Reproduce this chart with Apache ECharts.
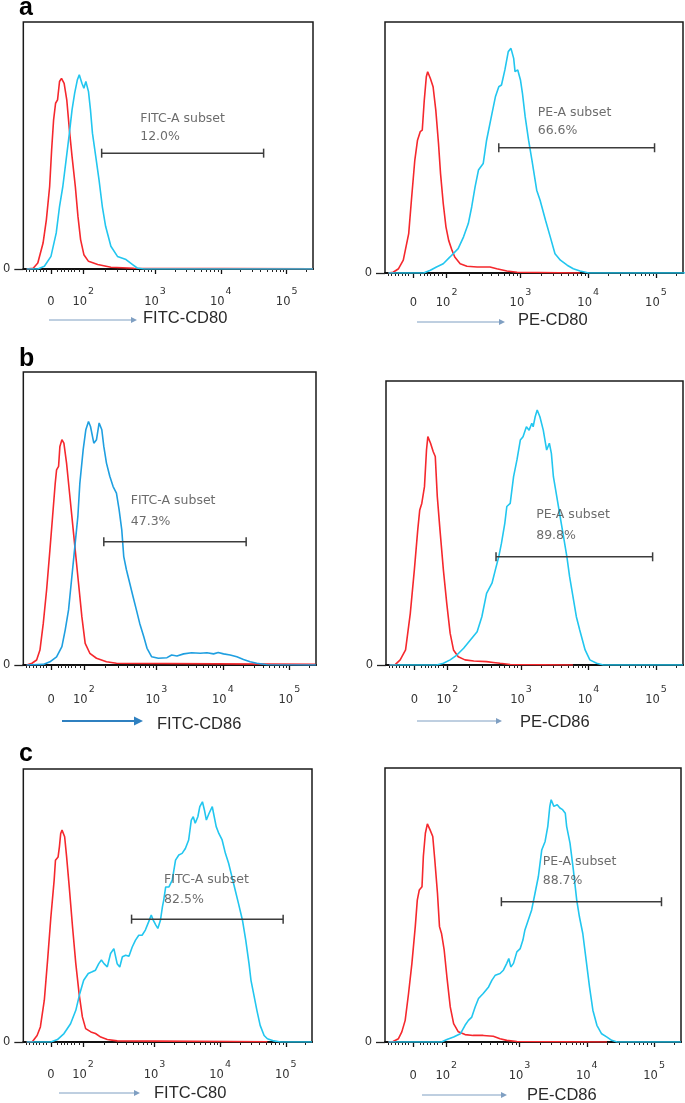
<!DOCTYPE html>
<html><head><meta charset="utf-8">
<script src="https://cdn.jsdelivr.net/npm/echarts@6/dist/echarts.min.js"></script>
<style>html,body{margin:0;padding:0;background:#fff}#c{width:685px;height:1103px}</style>
</head><body><div id="c"></div>
<script>
// x values are positions on the biexponential display axis: 3 = 10^3, 4 = 10^4, 5 = 10^5
const tickPositions = [1.42, 1.91, 3, 4, 5];
const tickLabels = ['0', '10^2', '10^3', '10^4', '10^5'];
const yTickValues = [0];
const panelLetters = ['a', 'b', 'c'];
const axisNames = ['FITC-CD80', 'PE-CD80', 'FITC-CD86', 'PE-CD86', 'FITC-C80', 'PE-CD86'];
const gateNames = ['FITC-A subset', 'PE-A subset', 'FITC-A subset', 'PE-A subset', 'FITC-A subset', 'PE-A subset'];
const gatePercents = ['12.0%', '66.6%', '47.3%', '89.8%', '82.5%', '88.7%'];
const gateRanges = [[2.19, 4.65], [2.68, 4.98], [2.21, 4.35], [2.63, 4.95], [2.65, 4.96], [2.73, 5.11]];
const gateLevels = [46.9, 49.9, 42.1, 38.1, 45.0, 51.2];
const gateLabelPos = [[2.76, 57.3], [3.24, 60.2], [2.60, 52.6], [3.21, 49.2], [3.13, 55.9], [3.33, 62.4]];

const aLeftControl = [[1.05,0],[1.15,0.3],[1.22,2.4],[1.30,10.5],[1.35,19.9],[1.40,33.4],[1.43,48.2],[1.46,60.4],[1.49,67.1],[1.52,68.5],[1.55,75.9],[1.58,77.2],[1.62,75.2],[1.66,68.5],[1.70,56.3],[1.74,45.6],[1.79,33.4],[1.83,21.3],[1.87,11.9],[1.92,5.8],[1.99,3.1],[2.13,1.8],[2.33,0.7],[2.68,0.3],[5.4,0.1]];
const aLeftStained = [[1.05,0],[1.22,0],[1.32,1.1],[1.42,5.1],[1.50,14.6],[1.55,25.3],[1.60,33.4],[1.65,44.2],[1.70,55.0],[1.74,64.4],[1.78,71.2],[1.82,76.5],[1.85,78.6],[1.89,75.2],[1.92,73.2],[1.95,75.9],[1.99,71.8],[2.02,64.4],[2.05,55.0],[2.10,45.6],[2.15,36.1],[2.20,25.3],[2.25,17.3],[2.33,9.2],[2.43,5.1],[2.56,3.8],[2.66,1.8],[2.73,0.4],[2.83,0],[5.4,0]];
const aRightControl = [[1.05,0],[1.12,0.3],[1.20,1.7],[1.27,5.1],[1.35,15.7],[1.39,29.0],[1.44,44.9],[1.48,52.9],[1.52,56.3],[1.55,56.9],[1.58,68.9],[1.61,78.2],[1.63,80.2],[1.67,77.5],[1.71,74.2],[1.75,64.9],[1.79,51.6],[1.82,39.6],[1.86,27.7],[1.90,18.4],[1.94,13.0],[1.99,9.0],[2.03,6.4],[2.11,3.7],[2.21,2.7],[2.36,2.4],[2.55,2.4],[2.65,1.7],[2.80,0.8],[2.95,0.3],[3.88,0]];
const aRightStained = [[1.05,0],[1.57,0],[1.67,1.1],[1.76,2.4],[1.86,3.7],[1.96,6.4],[2.08,9.7],[2.16,14.4],[2.23,19.7],[2.28,26.3],[2.33,34.3],[2.38,41.0],[2.45,43.6],[2.50,52.9],[2.58,63.6],[2.63,70.2],[2.68,74.2],[2.72,74.9],[2.77,80.9],[2.82,88.2],[2.86,89.5],[2.90,85.5],[2.92,80.2],[2.96,80.9],[3.00,76.9],[3.03,71.5],[3.07,62.2],[3.12,52.9],[3.17,44.9],[3.24,33.0],[3.29,29.0],[3.37,21.0],[3.44,14.4],[3.51,7.7],[3.59,5.1],[3.69,3.1],[3.78,1.7],[3.88,0.8],[4.01,0],[5.45,0]];
const bLeftControl = [[1.05,0],[1.13,0.6],[1.20,1.7],[1.25,5.1],[1.30,14.2],[1.35,25.6],[1.40,39.3],[1.44,50.7],[1.48,62.1],[1.50,66.6],[1.53,67.8],[1.55,74.6],[1.58,76.9],[1.61,75.7],[1.65,68.9],[1.69,59.8],[1.73,50.7],[1.78,39.3],[1.83,27.9],[1.88,16.5],[1.93,7.4],[2.00,4.0],[2.10,2.3],[2.25,1.1],[2.40,0.6],[5.39,0.2]];
const bLeftStained = [[1.05,0],[1.30,0.2],[1.40,1.1],[1.50,2.8],[1.58,6.3],[1.63,12.0],[1.68,18.8],[1.73,30.2],[1.78,41.6],[1.82,50.7],[1.85,62.1],[1.90,73.5],[1.94,80.3],[1.98,83.1],[2.01,81.4],[2.06,75.7],[2.10,76.9],[2.14,82.6],[2.18,80.3],[2.21,74.6],[2.25,68.9],[2.30,64.4],[2.35,60.9],[2.40,58.7],[2.44,53.0],[2.48,46.1],[2.51,37.0],[2.55,32.5],[2.60,27.9],[2.65,23.3],[2.70,18.8],[2.75,14.2],[2.81,9.7],[2.86,5.7],[2.93,2.8],[3.03,2.3],[3.16,2.5],[3.23,3.4],[3.31,3.1],[3.41,3.8],[3.53,4.2],[3.66,4.0],[3.76,4.2],[3.86,3.8],[3.93,4.3],[4.01,3.8],[4.11,3.4],[4.21,2.8],[4.31,1.9],[4.41,1.1],[4.51,0.6],[4.66,0.1],[5.4,0]];
const bRightControl = [[1.05,0],[1.14,0.2],[1.21,1.8],[1.29,5.3],[1.36,18.2],[1.42,33.5],[1.47,47.5],[1.50,54.6],[1.53,56.9],[1.57,62.8],[1.60,75.7],[1.62,80.4],[1.66,78.1],[1.70,75.1],[1.73,73.4],[1.76,59.3],[1.80,47.5],[1.85,33.5],[1.90,21.7],[1.95,11.2],[2.00,5.3],[2.07,2.9],[2.17,1.8],[2.30,1.4],[2.49,1.2],[2.59,0.9],[2.69,0.6],[2.84,0.2],[3.77,0]];
const bRightStained = [[1.05,0],[1.75,0],[1.85,0.6],[1.95,1.8],[2.05,3.5],[2.15,5.9],[2.25,8.8],[2.35,11.7],[2.42,17.0],[2.49,25.2],[2.57,28.8],[2.62,33.5],[2.67,38.1],[2.71,42.8],[2.76,49.9],[2.79,55.8],[2.84,56.9],[2.89,66.3],[2.94,72.2],[2.99,79.2],[3.03,80.4],[3.08,83.9],[3.12,82.7],[3.16,85.1],[3.18,83.9],[3.21,87.4],[3.24,89.8],[3.28,87.4],[3.33,82.7],[3.38,75.7],[3.42,78.1],[3.45,74.5],[3.48,66.3],[3.53,59.3],[3.58,52.2],[3.63,45.2],[3.68,38.1],[3.72,31.1],[3.77,24.1],[3.82,17.0],[3.87,12.3],[3.95,5.3],[4.02,1.8],[4.12,0.6],[4.22,0],[5.4,0]];
const cLeftControl = [[1.05,0],[1.14,0.2],[1.21,2.4],[1.26,5.5],[1.32,15.3],[1.37,30.0],[1.42,45.8],[1.47,59.3],[1.49,66.6],[1.53,67.8],[1.55,71.5],[1.57,76.4],[1.59,77.6],[1.63,75.2],[1.66,67.8],[1.70,56.8],[1.75,42.2],[1.80,28.7],[1.85,17.7],[1.90,9.2],[1.95,4.9],[2.03,3.7],[2.10,3.1],[2.18,1.8],[2.28,0.9],[2.43,0.4],[4.72,0.1]];
const cLeftStained = [[1.05,0],[1.42,0],[1.52,0.9],[1.62,3.1],[1.72,6.7],[1.80,11.6],[1.86,17.7],[1.92,22.6],[1.99,25.1],[2.05,25.7],[2.10,26.3],[2.15,28.7],[2.19,30.0],[2.23,28.7],[2.28,27.5],[2.33,32.4],[2.38,34.2],[2.43,28.7],[2.47,27.5],[2.51,31.2],[2.56,31.8],[2.61,31.4],[2.66,34.8],[2.71,37.3],[2.76,39.1],[2.81,39.1],[2.86,41.0],[2.91,44.0],[2.95,46.5],[2.98,44.6],[3.02,42.8],[3.05,41.6],[3.09,44.6],[3.12,49.5],[3.14,52.0],[3.17,56.8],[3.22,56.8],[3.27,59.3],[3.32,66.6],[3.37,68.5],[3.42,69.1],[3.47,70.9],[3.52,74.0],[3.56,81.3],[3.59,82.5],[3.62,80.1],[3.66,82.5],[3.69,86.2],[3.73,88.0],[3.76,85.0],[3.79,81.3],[3.83,83.7],[3.88,86.2],[3.90,83.7],[3.94,78.9],[3.98,76.4],[4.03,74.0],[4.08,69.1],[4.13,65.4],[4.18,60.5],[4.23,55.6],[4.28,50.7],[4.34,44.6],[4.39,37.3],[4.44,28.7],[4.47,22.6],[4.51,17.7],[4.56,11.6],[4.61,6.1],[4.67,2.4],[4.72,1.2],[4.82,0.4],[4.92,0],[5.4,0]];
const cRightControl = [[1.05,0],[1.12,0.2],[1.20,1.2],[1.25,3.7],[1.30,7.9],[1.35,17.7],[1.40,28.7],[1.45,42.1],[1.48,51.8],[1.51,55.5],[1.55,56.7],[1.57,67.7],[1.60,76.2],[1.63,79.6],[1.67,77.4],[1.71,75.0],[1.74,66.5],[1.78,54.3],[1.81,42.1],[1.84,39.6],[1.88,33.5],[1.92,23.8],[1.97,12.8],[2.02,6.7],[2.09,3.7],[2.19,2.7],[2.31,2.4],[2.46,2.4],[2.61,2.1],[2.71,1.2],[2.81,0.6],[2.96,0.2],[4.30,0]];
const cRightStained = [[1.05,0],[1.84,0],[1.92,0.9],[2.02,1.8],[2.12,3.0],[2.19,6.1],[2.24,7.9],[2.29,9.1],[2.34,12.8],[2.39,15.9],[2.46,17.7],[2.54,20.1],[2.59,22.6],[2.64,24.4],[2.71,25.0],[2.76,26.2],[2.81,28.7],[2.84,30.5],[2.87,27.4],[2.91,28.7],[2.96,32.9],[3.01,34.1],[3.05,37.2],[3.08,40.9],[3.13,44.5],[3.18,48.2],[3.23,54.3],[3.28,60.4],[3.33,70.1],[3.38,73.2],[3.42,78.7],[3.45,86.0],[3.47,88.4],[3.51,86.0],[3.56,86.6],[3.60,85.4],[3.64,84.8],[3.68,83.5],[3.70,78.7],[3.75,72.6],[3.80,62.8],[3.85,51.8],[3.89,45.7],[3.94,39.6],[3.99,29.9],[4.04,20.1],[4.09,11.6],[4.15,6.1],[4.22,3.0],[4.30,1.8],[4.37,0.6],[4.45,0],[5.4,0]];

const controls = [aLeftControl, aRightControl, bLeftControl, bRightControl, cLeftControl, cRightControl];
const stained = [aLeftStained, aRightStained, bLeftStained, bRightStained, cLeftStained, cRightStained];

// ---- layout / style (pixels) ----
const boxes = [
  {left: 22, top: 22, width: 291, height: 247},
  {left: 385, top: 22, width: 298, height: 251},
  {left: 23, top: 372, width: 293, height: 293},
  {left: 386, top: 381, width: 297, height: 284},
  {left: 23, top: 769, width: 289, height: 273},
  {left: 385, top: 768, width: 296, height: 274}
];
const labelMargins = [17, 14, 19, 19, 17, 18];
const gateLineHeights = [18, 18, 21, 21, 20, 19];
const stainedColors = ['#22c6ef', '#22c6ef', '#1f9fe0', '#22c6ef', '#22c6ef', '#22c6ef'];
const controlColor = '#f5282d';
const arrows = [
  {x1: 49, x2: 137, y: 320, tx: 143, ty: 318, color: '#7f9fc2', w: 1},
  {x1: 417, x2: 505, y: 322, tx: 518, ty: 320, color: '#7f9fc2', w: 1},
  {x1: 62, x2: 143, y: 721, tx: 157, ty: 724, color: '#2f80c0', w: 2},
  {x1: 417, x2: 502, y: 721, tx: 520, ty: 722, color: '#7f9fc2', w: 1},
  {x1: 59, x2: 140, y: 1093, tx: 154, ty: 1093, color: '#7f9fc2', w: 1},
  {x1: 422, x2: 507, y: 1095, tx: 527, ty: 1095, color: '#7f9fc2', w: 1}
];
const letterPos = [[19, 21], [19, 372], [19, 767]];

function minorTickPositions() {
  const t = [1.045, 1.095, 1.15, 1.20, 1.25, 1.30, 1.35, 1.52, 1.575, 1.625, 1.675, 1.725, 1.78, 1.85];
  for (let k = 2; k <= 9; k++) t.push(1.91 + 1.09 * Math.log10(k));
  for (let dec = 3; dec <= 4; dec++) for (let k = 2; k <= 9; k++) t.push(dec + Math.log10(k));
  t.push(5 + Math.log10(2));
  return t;
}
const minorTicks = minorTickPositions();

function tickFormatter(v) {
  let idx = 0, best = 1e9;
  tickPositions.forEach((p, i) => { if (Math.abs(p - v) < best) { best = Math.abs(p - v); idx = i; } });
  const lab = tickLabels[idx];
  if (lab.indexOf('^') < 0) return '{n|' + lab + '}';
  const parts = lab.split('^');
  return '{n|' + parts[0] + '}{s|' + parts[1] + '}';
}

const grids = [], xAxes = [], yAxes = [], series = [], graphics = [];
const FONT = 'DejaVu Sans';
boxes.forEach((b, i) => {
  grids.push({left: b.left, top: b.top, width: b.width, height: b.height, show: true,
    borderColor: '#1a1a1a', borderWidth: 1.5, backgroundColor: 'transparent', containLabel: false});
  xAxes.push({
    gridIndex: i, type: 'value', min: 1, max: 5.4, position: 'bottom',
    axisLine: {show: true, onZero: false, lineStyle: {color: '#111', width: 2}},
    axisTick: {show: true, customValues: tickPositions, length: 5, lineStyle: {color: '#111', width: 1.3}},
    axisLabel: {show: true, customValues: tickPositions, formatter: tickFormatter, margin: labelMargins[i],
      color: '#333', fontFamily: FONT,
      rich: {
        n: {fontSize: 11.5, fontFamily: FONT, color: '#333', padding: [10, 0, 10, 0]},
        s: {fontSize: 9.5, fontFamily: FONT, color: '#333', padding: [0, 0, 20, 1]}
      }},
    splitLine: {show: false}
  });
  xAxes.push({
    gridIndex: i, type: 'value', min: 1, max: 5.4, position: 'bottom',
    axisLine: {show: false, onZero: false},
    axisTick: {show: true, customValues: minorTicks, length: 3, lineStyle: {color: '#222', width: 1}},
    axisLabel: {show: false}, splitLine: {show: false}
  });
  yAxes.push({
    gridIndex: i, type: 'value', min: 0, max: 100,
    axisLine: {show: false},
    axisTick: {show: true, customValues: yTickValues, length: 9, lineStyle: {color: '#222', width: 1.3}},
    axisLabel: {show: true, customValues: yTickValues, margin: 13, fontSize: 11.5, color: '#333', fontFamily: FONT},
    splitLine: {show: false}
  });
  series.push({type: 'line', xAxisIndex: 2 * i, yAxisIndex: i, data: controls[i], showSymbol: false, symbol: 'none',
    lineStyle: {color: controlColor, width: 1.6}, z: 3, silent: true});
  series.push({type: 'line', xAxisIndex: 2 * i, yAxisIndex: i, data: stained[i], showSymbol: false, symbol: 'none',
    lineStyle: {color: stainedColors[i], width: 1.6}, z: 4, silent: true});
  series.push({type: 'line', xAxisIndex: 2 * i, yAxisIndex: i,
    data: [[gateRanges[i][0], gateLevels[i]], [gateRanges[i][1], gateLevels[i]]],
    symbol: 'rect', symbolSize: [1.5, 9], showSymbol: true,
    itemStyle: {color: '#3c3c3c'}, lineStyle: {color: '#3c3c3c', width: 1.5}, z: 5, silent: true});
  series.push({type: 'scatter', xAxisIndex: 2 * i, yAxisIndex: i,
    data: [{value: gateLabelPos[i], name: gateNames[i] + '\n' + gatePercents[i]}],
    symbolSize: 2, itemStyle: {color: 'rgba(0,0,0,0)'}, z: 6, silent: true,
    label: {show: true, position: 'right', distance: 0, formatter: p => p.name, align: 'left',
      fontSize: 12.5, lineHeight: gateLineHeights[i], color: '#474747', fontFamily: FONT}});
  const a = arrows[i];
  graphics.push({type: 'line', shape: {x1: a.x1, y1: a.y, x2: a.x2 - 4, y2: a.y}, style: {stroke: a.color, lineWidth: a.w}});
  const hl = a.w > 1 ? 9 : 6, hw = a.w > 1 ? 4.5 : 3;
  graphics.push({type: 'polygon', shape: {points: [[a.x2, a.y], [a.x2 - hl, a.y - hw], [a.x2 - hl, a.y + hw]]}, style: {fill: a.color}});
  graphics.push({type: 'text', x: a.tx, y: a.ty, style: {text: axisNames[i], font: '16.5px "Liberation Sans", Arial, sans-serif',
    fill: '#2a2a2a', textVerticalAlign: 'middle', verticalAlign: 'middle'}});
});
panelLetters.forEach((l, i) => {
  graphics.push({type: 'text', x: letterPos[i][0], y: letterPos[i][1], style: {text: l,
    font: 'bold 25px "Liberation Sans", Arial, sans-serif', fill: '#000', verticalAlign: 'bottom', textVerticalAlign: 'bottom'}});
});

const chart = echarts.init(document.getElementById('c'));
chart.setOption({animation: false, backgroundColor: '#fff', grid: grids, xAxis: xAxes, yAxis: yAxes, series: series, graphic: graphics});
</script>
</body></html>
